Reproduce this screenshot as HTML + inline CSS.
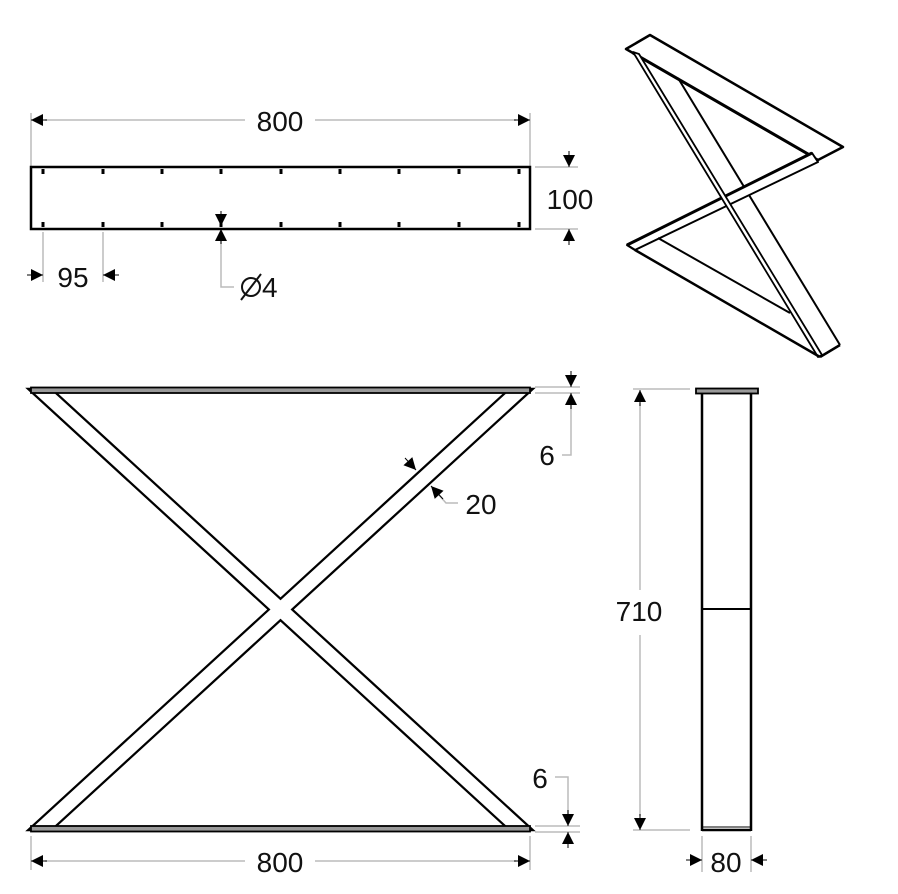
<!DOCTYPE html>
<html><head><meta charset="utf-8"><style>
html,body{margin:0;padding:0;background:#fff;}
svg{display:block;}
text{font-family:"Liberation Sans",sans-serif;fill:#111;}
</style></head><body>
<svg width="898" height="894" viewBox="0 0 898 894" xmlns="http://www.w3.org/2000/svg">
<defs>
<marker id="a" viewBox="0 0 10 10" refX="10" refY="5" markerWidth="16" markerHeight="12" markerUnits="userSpaceOnUse" orient="auto"><path d="M0,0L10,5L0,10z" fill="#000"/></marker>
</defs>
<!-- TOP VIEW -->
<g stroke="#bbb" stroke-width="1.5" fill="none">
<line x1="31" y1="113" x2="31" y2="185"/><line x1="530" y1="113" x2="530" y2="185"/>
<line x1="45" y1="120" x2="245" y2="120"/><line x1="315" y1="120" x2="516" y2="120"/>
<line x1="535" y1="167" x2="578" y2="167"/><line x1="535" y1="229" x2="578" y2="229"/>
<line x1="43" y1="232" x2="43" y2="282"/><line x1="103" y1="232" x2="103" y2="282"/>
<polyline points="221,240 221,287 234,287"/>
</g>
<g stroke="#000" stroke-width="1" fill="#000">
<line x1="47" y1="120" x2="31" y2="120" marker-end="url(#a)"/>
<line x1="514" y1="120" x2="530" y2="120" marker-end="url(#a)"/>
<line x1="569" y1="151" x2="569" y2="167" marker-end="url(#a)"/>
<line x1="569" y1="245" x2="569" y2="229" marker-end="url(#a)"/>
<line x1="27" y1="275" x2="43" y2="275" marker-end="url(#a)"/>
<line x1="119" y1="275" x2="103" y2="275" marker-end="url(#a)"/>
<line x1="221" y1="211" x2="221" y2="226" marker-end="url(#a)"/>
<line x1="221" y1="244" x2="221" y2="229" marker-end="url(#a)"/>
</g>
<rect x="31" y="167" width="499" height="62" fill="none" stroke="#000" stroke-width="2.5"/>
<g fill="#000">
<rect x="41.5" y="169" width="3" height="5"/><rect x="101.5" y="169" width="3" height="5"/><rect x="160.5" y="169" width="3" height="5"/><rect x="219.5" y="169" width="3" height="5"/><rect x="279.5" y="169" width="3" height="5"/><rect x="338.5" y="169" width="3" height="5"/><rect x="397.5" y="169" width="3" height="5"/><rect x="457.5" y="169" width="3" height="5"/><rect x="517.5" y="169" width="3" height="5"/>
<rect x="41.5" y="222" width="3" height="5"/><rect x="101.5" y="222" width="3" height="5"/><rect x="160.5" y="222" width="3" height="5"/><rect x="219.5" y="222" width="3" height="5"/><rect x="279.5" y="222" width="3" height="5"/><rect x="338.5" y="222" width="3" height="5"/><rect x="397.5" y="222" width="3" height="5"/><rect x="457.5" y="222" width="3" height="5"/><rect x="517.5" y="222" width="3" height="5"/>
</g>
<text x="280" y="131" font-size="28" text-anchor="middle">800</text>
<text x="570" y="209" font-size="28" text-anchor="middle">100</text>
<text x="73" y="287" font-size="28" text-anchor="middle">95</text>
<g stroke="#111" stroke-width="2" fill="none"><circle cx="251" cy="287" r="9"/><line x1="241" y1="300" x2="261" y2="274"/></g>
<text x="262" y="297" font-size="28">4</text>

<!-- ISO VIEW -->
<g stroke="#000" fill="none" stroke-linejoin="round">
<polygon points="626,49 650,35 843,147 818,160" stroke-width="2.5" fill="#fff"/>
<line x1="633" y1="53" x2="815" y2="158" stroke-width="3"/>
<line x1="678" y1="78" x2="840" y2="345" stroke-width="2"/>
<polygon points="627,245 812,153 818,162 635,250" stroke-width="2" fill="#fff"/>
<line x1="627" y1="245" x2="812" y2="153" stroke-width="3"/>
<polygon points="633,52 639,54 822,355 818,357" stroke-width="1.8" fill="#fff"/>
<line x1="635" y1="250" x2="820" y2="357" stroke-width="2.5"/>
<line x1="658" y1="238" x2="790" y2="313" stroke-width="2"/>
<line x1="820" y1="357" x2="840" y2="345" stroke-width="2.5"/>
<line x1="627" y1="245" x2="635" y2="250" stroke-width="2"/>
</g>

<!-- FRONT VIEW -->
<g stroke="#000" stroke-width="4.5" fill="#000" stroke-linejoin="miter">
<polygon points="31,390 51,390 530,829 510,829"/>
<polygon points="31,829 51,829 530,390 510,390"/>
</g>
<g fill="#fff">
<polygon points="31,390 51,390 530,829 510,829"/>
<polygon points="31,829 51,829 530,390 510,390"/>
</g>
<rect x="31" y="387.5" width="499" height="5.5" fill="#999" stroke="#000" stroke-width="1.8"/>
<rect x="31" y="826" width="499" height="5.5" fill="#999" stroke="#000" stroke-width="1.8"/>
<g stroke="#bbb" stroke-width="1.5" fill="none">
<line x1="535" y1="387" x2="580" y2="387"/><line x1="535" y1="393" x2="580" y2="393"/>
<polyline points="571,400 571,455 562,455"/>
<line x1="535" y1="826" x2="580" y2="826"/><line x1="535" y1="832" x2="580" y2="832"/>
<polyline points="555,777 568,777 568,815"/>
<line x1="31" y1="836" x2="31" y2="870"/><line x1="530" y1="836" x2="530" y2="870"/>
<line x1="45" y1="861" x2="245" y2="861"/><line x1="315" y1="861" x2="516" y2="861"/>
<polyline points="438,494 446,503 458,503"/>
</g>
<g stroke="#000" stroke-width="1" fill="#000">
<line x1="571" y1="371" x2="571" y2="387" marker-end="url(#a)"/>
<line x1="571" y1="409" x2="571" y2="393" marker-end="url(#a)"/>
<line x1="568" y1="810" x2="568" y2="826" marker-end="url(#a)"/>
<line x1="568" y1="848" x2="568" y2="832" marker-end="url(#a)"/>
<line x1="47" y1="861" x2="31" y2="861" marker-end="url(#a)"/>
<line x1="514" y1="861" x2="530" y2="861" marker-end="url(#a)"/>
<line x1="405" y1="458" x2="416" y2="470" marker-end="url(#a)"/>
<line x1="443" y1="499" x2="431" y2="486" marker-end="url(#a)"/>
</g>
<text x="547" y="465" font-size="28" text-anchor="middle">6</text>
<text x="540" y="788" font-size="28" text-anchor="middle">6</text>
<text x="481" y="514" font-size="28" text-anchor="middle">20</text>
<text x="280" y="872" font-size="28" text-anchor="middle">800</text>

<!-- SIDE VIEW -->
<g stroke="#bbb" stroke-width="1.5" fill="none">
<line x1="633" y1="389" x2="690" y2="389"/><line x1="633" y1="830" x2="690" y2="830"/>
<line x1="640" y1="403" x2="640" y2="590"/><line x1="640" y1="635" x2="640" y2="816"/>
<line x1="702" y1="836" x2="702" y2="872"/><line x1="751" y1="836" x2="751" y2="872"/>
</g>
<g stroke="#000" stroke-width="1" fill="#000">
<line x1="640" y1="406" x2="640" y2="390" marker-end="url(#a)"/>
<line x1="640" y1="814" x2="640" y2="830" marker-end="url(#a)"/>
<line x1="686" y1="860" x2="702" y2="860" marker-end="url(#a)"/>
<line x1="767" y1="860" x2="751" y2="860" marker-end="url(#a)"/>
</g>
<g stroke="#000" fill="none">
<line x1="702" y1="392" x2="702" y2="831" stroke-width="2.5"/>
<line x1="751" y1="392" x2="751" y2="831" stroke-width="2.5"/>
<line x1="702" y1="609" x2="751" y2="609" stroke-width="2"/>
<line x1="702" y1="830" x2="751" y2="830" stroke-width="2.5"/>
<line x1="702" y1="827" x2="751" y2="827" stroke-width="1"/>
</g>
<rect x="696" y="388.5" width="62" height="5" fill="#999" stroke="#000" stroke-width="1.8"/>
<text x="639" y="621" font-size="28" text-anchor="middle">710</text>
<text x="726" y="872" font-size="28" text-anchor="middle">80</text>
</svg>
</body></html>
